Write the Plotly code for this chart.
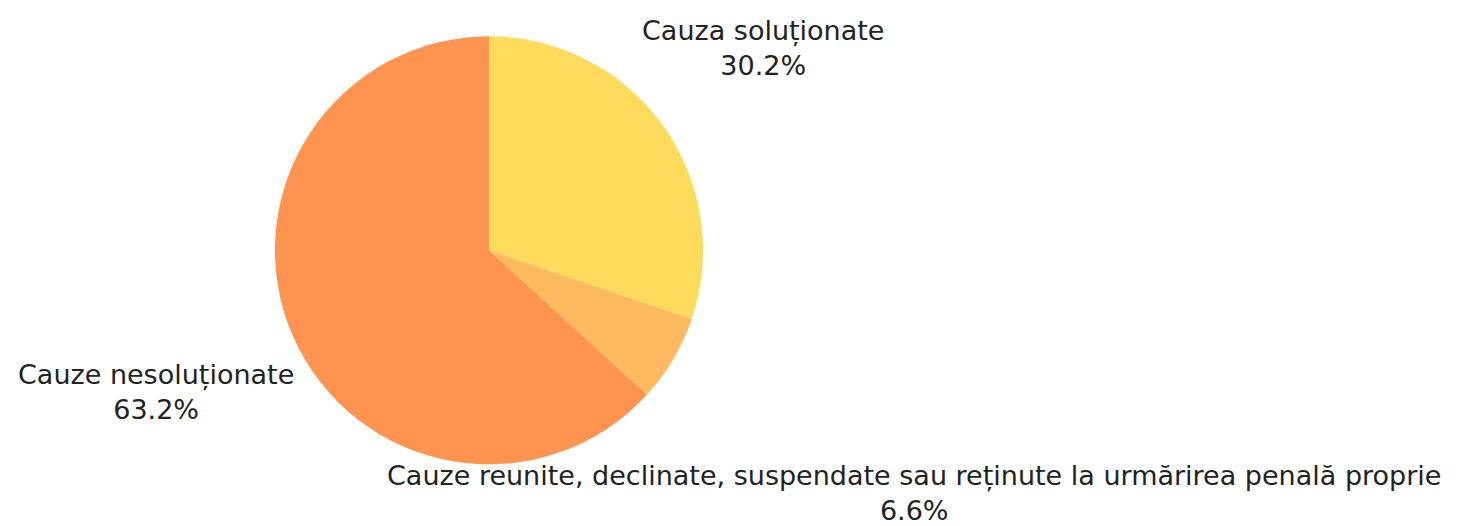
import plotly.graph_objects as go

labels = ["Cauza soluționate",
          "Cauze reunite, declinate, suspendate sau reținute la urmărirea penală proprie",
          "Cauze nesoluționate"]
values = [30.2, 6.6, 63.2]
colors = ["#FFDB5C", "#FFB95E", "#FF9350"]

# label placement (paper coords) for each slice
label_x = [0.5150, 0.6180, 0.1009]
label_y = [0.9239, 0.0780, 0.2700]

fig = go.Figure(go.Pie(
    labels=labels, values=values, sort=False, direction="clockwise", rotation=0,
    marker=dict(colors=colors, line=dict(width=0)),
    textinfo="none", hoverinfo="label+percent",
    domain=dict(x=[0.1821, 0.4741], y=[0.1323, 0.9463]),
    showlegend=False, automargin=False,
))

total = sum(values)
for lab, v, lx, ly in zip(labels, values, label_x, label_y):
    fig.add_annotation(
        x=lx, y=ly, xref="paper", yref="paper", xanchor="center", yanchor="middle",
        text=f"{lab}<br>{v / total * 100:.1f}%", showarrow=False, align="center",
        font=dict(family="DejaVu Sans", size=27, color="#222222"),
    )

fig.update_layout(width=1466, height=526, margin=dict(l=0, r=0, t=0, b=0),
                  paper_bgcolor="white", plot_bgcolor="white")
fig.write_html("out.html")
